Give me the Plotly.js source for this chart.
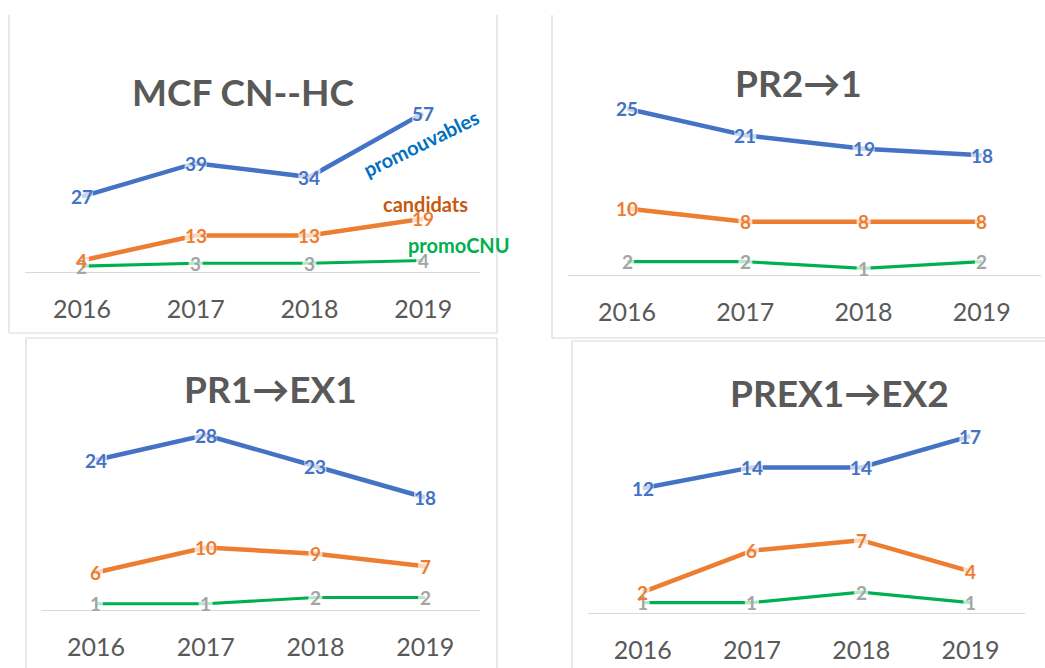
<!DOCTYPE html>
<html>
<head>
<meta charset="utf-8">
<script src="https://cdn.plot.ly/plotly-3.0.1.min.js"></script>
<style>html,body{margin:0;padding:0;background:#fff;}#chart{width:1045px;height:668px;}</style>
</head>
<body>
<div id="chart"></div>
<script>
// ---- data ----
const years = ['2016', '2017', '2018', '2019'];
const panelTitles = ['MCF CN--HC', 'PR2\u2192' + '1', 'PR1\u2192EX1', 'PREX1\u2192EX2'];
const seriesNames = ['promouvables', 'candidats', 'promoCNU'];

const mcfPromouvables = [27, 39, 34, 57];
const mcfCandidats = [4, 13, 13, 19];
const mcfPromoCNU = [2, 3, 3, 4];

const pr21Promouvables = [25, 21, 19, 18];
const pr21Candidats = [10, 8, 8, 8];
const pr21PromoCNU = [2, 2, 1, 2];

const pr1ex1Promouvables = [24, 28, 23, 18];
const pr1ex1Candidats = [6, 10, 9, 7];
const pr1ex1PromoCNU = [1, 1, 2, 2];

const prex1ex2Promouvables = [12, 14, 14, 17];
const prex1ex2Candidats = [2, 6, 7, 4];
const prex1ex2PromoCNU = [1, 1, 2, 1];

// ---- layout geometry (pixels) ----
const W = 1045, H = 668;
const panels = [
  {series: [mcfPromouvables, mcfCandidats, mcfPromoCNU], x0: 25, x1: 480, zero: 271.6, scale: 2.78, ymax: 60, title: [243, 92]},
  {series: [pr21Promouvables, pr21Candidats, pr21PromoCNU], x0: 568, x1: 1041, zero: 275, scale: 6.65, ymax: 27, title: [798, 82]},
  {series: [pr1ex1Promouvables, pr1ex1Candidats, pr1ex1PromoCNU], x0: 41, x1: 480, zero: 610, scale: 6.25, ymax: 30, title: [270, 388]},
  {series: [prex1ex2Promouvables, prex1ex2Candidats, prex1ex2PromoCNU], x0: 588, x1: 1025, zero: 613, scale: 10.4, ymax: 18, title: [839, 392]}
];
const lineColors = ['#4472c4', '#ed7d31', '#00b050'];
const labelColors = ['#4472c4', '#ed7d31', '#a5a5a5'];
const lineWidths = [4.5, 4.5, 3.2];
const FONT = 'Lato, "Liberation Sans", Arial, sans-serif';

const px = x => x / W;
const py = y => 1 - y / H;

const traces = [];
const annotations = [];
const layout = {
  width: W, height: H,
  margin: {l: 0, r: 0, t: 0, b: 0},
  paper_bgcolor: '#ffffff', plot_bgcolor: 'rgba(0,0,0,0)',
  showlegend: false,
  font: {family: FONT, color: '#595959'},
  annotations: annotations,
  shapes: []
};

panels.forEach((p, i) => {
  const n = i + 1;
  const xa = 'xaxis' + (n === 1 ? '' : n), ya = 'yaxis' + (n === 1 ? '' : n);
  const xr = 'x' + (n === 1 ? '' : n), yr = 'y' + (n === 1 ? '' : n);
  const top = p.zero - p.scale * p.ymax;
  layout[xa] = {
    type: 'category', domain: [px(p.x0), px(p.x1)], anchor: yr,
    range: [-0.5, 3.5], showgrid: false, zeroline: false,
    showline: true, linecolor: '#d9d9d9', linewidth: 1.2,
    ticks: 'outside', ticklen: 15, tickcolor: 'rgba(0,0,0,0)',
    tickfont: {size: 25, color: '#595959', family: FONT}, fixedrange: true
  };
  layout[ya] = {
    domain: [py(p.zero), py(top)], anchor: xr, range: [0, p.ymax],
    visible: false, showgrid: false, zeroline: false, fixedrange: true
  };
  p.series.forEach((vals, s) => {
    traces.push({
      type: 'scatter', mode: 'lines+markers', x: years, y: vals,
      xaxis: xr, yaxis: yr, hoverinfo: 'skip', cliponaxis: false,
      line: {color: lineColors[s], width: lineWidths[s]},
      marker: {symbol: 'square', color: '#ffffff', size: vals.map(v => 6 + 8 * String(v).length), line: {width: 0}}
    });
  });
  // data labels: green series first so candidats labels sit on top
  [2, 1, 0].forEach(s => {
    p.series[s].forEach((v, k) => {
      annotations.push({
        xref: xr, yref: yr, x: k, y: v, text: '<b>' + v + '</b>', showarrow: false,
        xanchor: 'center', yanchor: 'middle',
        font: {size: 19, color: labelColors[s], family: FONT}
      });
    });
  });
  annotations.push({
    xref: 'paper', yref: 'paper', x: px(p.title[0]), y: py(p.title[1]),
    text: '<b>' + panelTitles[i] + '</b>', showarrow: false,
    xanchor: 'center', yanchor: 'middle',
    font: {size: 37, color: '#595959', family: FONT}
  });
});

// series names in the first panel
annotations.push({xref: 'paper', yref: 'paper', x: px(421), y: py(143), text: '<b>' + seriesNames[0] + '</b>',
  showarrow: false, textangle: -26, xanchor: 'center', yanchor: 'middle', font: {size: 20, color: '#0070c0', family: FONT}});
annotations.push({xref: 'paper', yref: 'paper', x: px(425), y: py(204), text: '<b>' + seriesNames[1] + '</b>',
  showarrow: false, xanchor: 'center', yanchor: 'middle', font: {size: 20, color: '#c55a11', family: FONT}});
annotations.push({xref: 'paper', yref: 'paper', x: px(459), y: py(245), text: '<b>' + seriesNames[2] + '</b>',
  showarrow: false, xanchor: 'center', yanchor: 'middle', font: {size: 20, color: '#00b050', family: FONT}});

// chart frames
const frame = (x0, y0, x1, y1) => ({type: 'line', xref: 'paper', yref: 'paper', layer: 'below',
  x0: px(x0), y0: py(y0), x1: px(x1), y1: py(y1), line: {color: '#d9d9d9', width: 1.2}});
layout.shapes.push(
  frame(9, 15, 9, 333), frame(497, 15, 497, 333), frame(9, 333, 497, 333),
  frame(552, 15, 552, 338), frame(552, 338, 1050, 338),
  frame(26, 338, 497, 338), frame(26, 338, 26, 680), frame(497, 338, 497, 680),
  frame(572, 341, 1050, 341), frame(572, 341, 572, 680)
);

Plotly.newPlot('chart', traces, layout, {displayModeBar: false, staticPlot: true});
</script>
</body>
</html>
